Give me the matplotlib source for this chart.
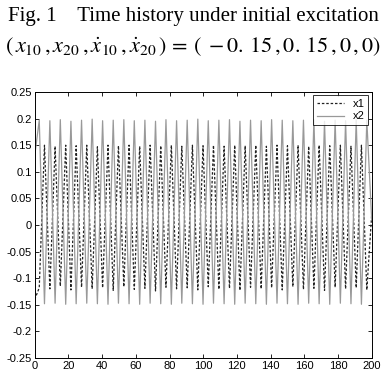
import numpy as np
import matplotlib
matplotlib.use('Agg')
import matplotlib.pyplot as plt
from matplotlib.ticker import FuncFormatter

# ── Data: extremum instants (s) and values ──
t_ext = [0.0, 2.7, 5.8, 9.0, 12.1, 15.2, 18.4, 21.5, 24.6, 27.8, 30.9, 34.1, 37.2,
         40.3, 43.5, 46.6, 49.7, 52.9, 56.0, 59.1, 62.3, 65.4, 68.5, 71.7, 74.8,
         77.9, 81.1, 84.2, 87.3, 90.5, 93.6, 96.8, 99.9, 103.0, 106.1, 109.3, 112.4,
         115.6, 118.7, 121.8, 124.9, 128.1, 131.2, 134.4, 137.5, 140.6, 143.8, 146.9,
         150.0, 153.2, 156.3, 159.5, 162.6, 165.7, 168.8, 172.0, 175.1, 178.3, 181.4,
         184.5, 187.7, 190.8, 193.9, 197.1, 200.0]

x1_ext = [-0.140, -0.118, 0.150, -0.120, 0.148, -0.115, 0.150, -0.122, 0.149, -0.117,
          0.150, -0.120, 0.147, -0.118, 0.150, -0.123, 0.149, -0.116, 0.150, -0.121,
          0.148, -0.119, 0.150, -0.124, 0.149, -0.117, 0.150, -0.120, 0.148, -0.118,
          0.150, -0.122, 0.149, -0.116, 0.150, -0.121, 0.148, -0.119, 0.150, -0.123,
          0.149, -0.117, 0.150, -0.120, 0.148, -0.118, 0.150, -0.122, 0.149, -0.116,
          0.150, -0.121, 0.148, -0.119, 0.150, -0.123, 0.149, -0.117, 0.150, -0.120,
          0.148, -0.118, 0.150, -0.122, 0.020]

x2_ext = [0.130, 0.197, -0.148, 0.196, -0.147, 0.198, -0.149, 0.195, -0.148, 0.197,
          -0.147, 0.199, -0.148, 0.196, -0.149, 0.197, -0.147, 0.198, -0.148, 0.196,
          -0.149, 0.197, -0.147, 0.195, -0.148, 0.198, -0.149, 0.196, -0.147, 0.197,
          -0.148, 0.199, -0.149, 0.196, -0.147, 0.197, -0.148, 0.198, -0.149, 0.195,
          -0.147, 0.197, -0.148, 0.196, -0.149, 0.198, -0.147, 0.197, -0.148, 0.196,
          -0.149, 0.197, -0.147, 0.198, -0.148, 0.195, -0.149, 0.197, -0.147, 0.196,
          -0.148, 0.198, -0.149, 0.197, 0.010]

x_ticks = [0, 20, 40, 60, 80, 100, 120, 140, 160, 180, 200]
y_ticks = [-0.25, -0.2, -0.15, -0.1, -0.05, 0, 0.05, 0.1, 0.15, 0.2, 0.25]

caption1 = 'Fig. 1    Time history under initial excitation'
caption2 = (r'$(\,x_{10}\,,x_{20}\,,\dot{x}_{10}\,,\dot{x}_{20}\,)\,=\,(\;-0.\,15\,,0.\,15\,,0\,,0)$')

plt.rcParams['mathtext.fontset'] = 'stix'

fig = plt.figure(figsize=(3.87, 3.71), dpi=100)
fig.text(0.5, 1 - 16 / 371, caption1, ha='center', va='center',
         family='Liberation Serif', fontsize=15)
fig.text(0.5, 1 - 47 / 371, caption2, ha='center', va='center', fontsize=16)

ax = fig.add_axes([34.7 / 387, 1 - 358 / 371, 337 / 387, 266 / 371])
ax.plot(t_ext, x1_ext, color='#222222', linestyle=(0, (2, 1.5)), linewidth=0.9, label='x1')
ax.plot(t_ext, x2_ext, color='#999999', linestyle='-', linewidth=0.9, label='x2')

ax.set_xlim(0, 200)
ax.set_ylim(-0.25, 0.25)
ax.set_xticks(x_ticks)
ax.set_yticks(y_ticks)
ax.yaxis.set_major_formatter(FuncFormatter(lambda v, _: f'{v:g}'))
ax.tick_params(direction='in', top=True, right=True, length=3, width=0.6,
               labelsize=8, pad=2)
for lab in ax.get_xticklabels() + ax.get_yticklabels():
    lab.set_family('Liberation Sans')
for s in ax.spines.values():
    s.set_linewidth(0.7)

leg = ax.legend(loc='upper right', frameon=True, fancybox=False,
                handlelength=2.4, borderpad=0.35, labelspacing=0.2,
                borderaxespad=0.3, prop={'family': 'Liberation Sans', 'size': 8})
leg.get_frame().set_edgecolor('black')
leg.get_frame().set_linewidth(0.7)

plt.savefig('out.png', dpi=100)
plt.close('all')
